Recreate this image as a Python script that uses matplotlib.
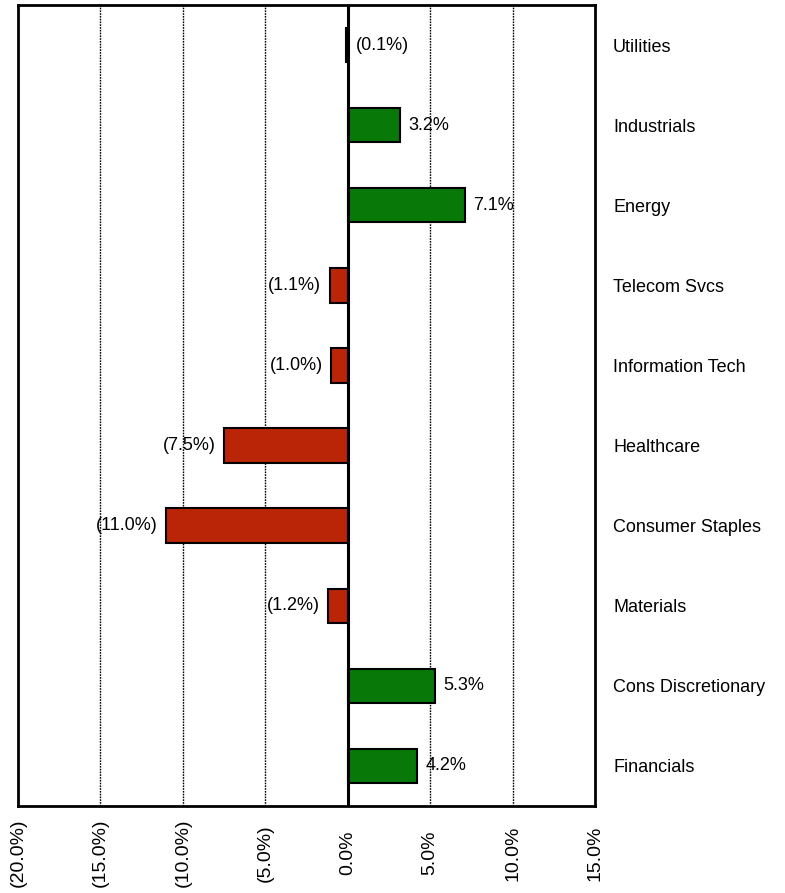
import matplotlib.pyplot as plt
from matplotlib.ticker import FixedLocator

plt.rcParams["font.family"] = ["Liberation Sans", "DejaVu Sans"]

# sectors from top to bottom
sectors = [
    "Utilities",
    "Industrials",
    "Energy",
    "Telecom Svcs",
    "Information Tech",
    "Healthcare",
    "Consumer Staples",
    "Materials",
    "Cons Discretionary",
    "Financials",
]
values = [-0.1, 3.2, 7.1, -1.1, -1.0, -7.5, -11.0, -1.2, 5.3, 4.2]
xticks = [-20, -15, -10, -5, 0, 5, 10, 15]
xtick_labels = ["(20.0%)", "(15.0%)", "(10.0%)", "(5.0%)", "0.0%", "5.0%", "10.0%", "15.0%"]

GREEN = "#087808"
RED = "#BA2508"


def fmt(v):
    if v < 0:
        return "({:.1f}%)".format(-v)
    return "{:.1f}%".format(v)


fig = plt.figure(figsize=(7.85, 8.93), dpi=100)
ax = fig.add_axes([0.0229, 0.0974, 0.7350, 0.8970])

ypos = list(range(len(sectors)))
colors = [GREEN if v >= 0 else RED for v in values]
ax.barh(ypos, values, height=0.43, color=colors, edgecolor="black",
        linewidth=1.5, zorder=2)

ax.set_xlim(-20, 15)
ax.set_ylim(len(sectors) - 0.5, -0.5)

# grid lines
for t in xticks[1:-1]:
    if t == 0:
        ax.axvline(0, color="black", lw=2.2, zorder=4)
    else:
        ax.axvline(t, color="black", lw=1, ls=(0, (1.2, 0.8)), zorder=1)

# value labels
for y, v in zip(ypos, values):
    if v >= 0 or abs(v) < 0.5:
        ax.annotate(fmt(v), (max(v, 0), y), xytext=(6, 0),
                    textcoords="offset points", ha="left", va="center",
                    fontsize=13)
    else:
        ax.annotate(fmt(v), (v, y), xytext=(-6, 0),
                    textcoords="offset points", ha="right", va="center",
                    fontsize=13)

ax.xaxis.set_major_locator(FixedLocator(xticks))
ax.set_xticklabels(xtick_labels, rotation=90, va="center", fontsize=14)
ax.tick_params(axis="x", length=0, pad=34)

ax.yaxis.tick_right()
ax.set_yticks(ypos)
ax.set_yticklabels(sectors, fontsize=13)
ax.tick_params(axis="y", length=0, pad=13)

for s in ax.spines.values():
    s.set_linewidth(2)
    s.set_color("black")

fig.savefig("out.png", dpi=100)
